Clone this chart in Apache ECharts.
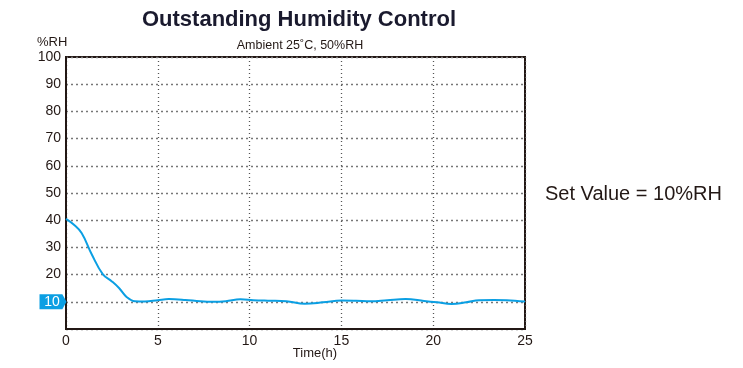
<!DOCTYPE html>
<html><head><meta charset="utf-8">
<script src="https://cdn.jsdelivr.net/npm/echarts@6/dist/echarts.min.js"></script>
<style>html,body{margin:0;padding:0;background:#fff}#c{width:743px;height:368px}</style>
</head><body><div id="c"></div>
<script>
const hours = [0,0.4,0.85,1.4,2.0,2.5,2.9,3.3,3.75,4.3,5,5.6,6.5,7.3,8,8.7,9.5,10.2,11,12,13,14,15,15.8,16.6,17.5,18.5,19.5,20.2,21,21.8,22.5,23.3,24,25];
const humidity = [40.5,38.5,35.3,27.5,20.2,17.5,15,11.8,10.2,10.1,10.6,11,10.7,10.2,10,10.2,10.9,10.6,10.4,10.2,9.3,9.8,10.5,10.4,10.2,10.6,11,10.3,9.8,9.2,9.8,10.6,10.7,10.6,10.1];
const yTicks = [0,10,20,30,40,50,60,70,80,90,100];
const xTicks = [0,5,10,15,20,25];
const setValue = 10;

const chart = echarts.init(document.getElementById('c'));
const font = 'Liberation Sans, Arial, sans-serif';
chart.setOption({
  animation:false,
  textStyle:{fontFamily:font},
  title:[
    {text:'Outstanding Humidity Control',left:294,top:4,padding:5,textAlign:'center',textStyle:{fontSize:22,fontWeight:'bold',color:'#1a1a2e',fontFamily:font}},
    {text:'Ambient 25˚C, 50%RH',left:295,top:34,textAlign:'center',textStyle:{fontSize:12.5,fontWeight:'normal',color:'#231815',fontFamily:font}},
    {text:'%RH',left:32,top:31,textStyle:{fontSize:13,fontWeight:'normal',color:'#231815',fontFamily:font}},
    {text:'Time(h)',left:310,top:342,textAlign:'center',textStyle:{fontSize:13,fontWeight:'normal',color:'#231815',fontFamily:font}},
    {text:'Set Value = '+setValue+'%RH',left:540,top:179,textStyle:{fontSize:20,fontWeight:'normal',color:'#231815',fontFamily:font}}
  ],
  grid:{left:66,right:218,top:57,bottom:39,show:true,borderColor:'#231815',borderWidth:2},
  xAxis:{type:'value',min:0,max:25,interval:5,
    axisLine:{show:true,lineStyle:{color:'#231815',width:2}},
    axisTick:{show:false},
    axisLabel:{fontSize:14,color:'#231815',margin:5,fontFamily:font,
      formatter:v=>String(v)},
    splitLine:{show:true,lineStyle:{type:[1,3],color:'#555',width:1.3}}
  },
  yAxis:{type:'value',min:0,max:100,interval:10,
    axisLine:{show:true,lineStyle:{color:'#231815',width:2}},
    axisTick:{show:false},
    axisLabel:{fontSize:14,color:'#231815',margin:5,fontFamily:font,
      formatter:v=> (v===setValue||v===0)?'':String(v)},
    splitLine:{show:true,lineStyle:{type:[2,3],color:'#777',width:1.3}}
  },
  series:[{
    type:'line',smooth:0.4,symbol:'none',
    data:hours.map((h,i)=>[h,humidity[i]]),
    lineStyle:{color:'#0b9fe3',width:2},
    markPoint:{silent:true,
      data:[{coord:[0,setValue],value:setValue}],
      symbol:'path://M0,0 L22,0 L26,7 L22,14 L0,14 Z',
      symbolSize:[27,15],symbolOffset:[-13,0],
      itemStyle:{color:'#0b9fe3'},
      label:{show:true,color:'#fff',fontSize:14,offset:[-1,0],fontFamily:font,formatter:String(setValue)}
    }
  }]
});
</script></body></html>
